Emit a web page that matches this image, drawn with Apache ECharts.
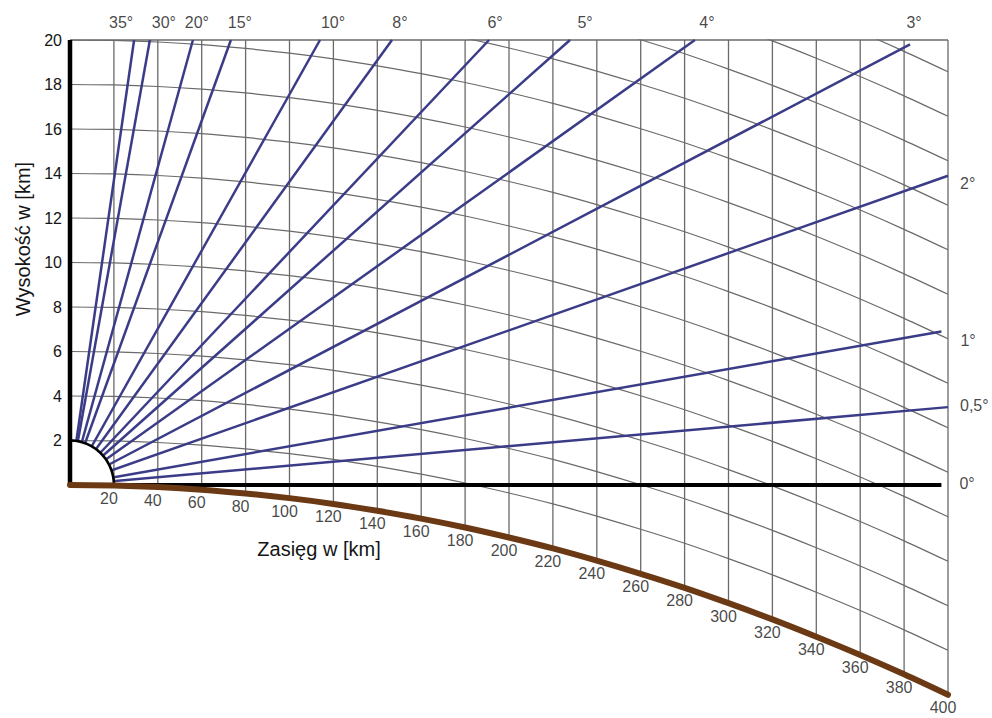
<!DOCTYPE html>
<html><head><meta charset="utf-8">
<script src="https://cdn.jsdelivr.net/npm/echarts@6/dist/echarts.min.js"></script>
<style>html,body{margin:0;padding:0;background:#fff}#c{width:992px;height:718px}</style>
</head><body><div id="c"></div>
<script>
// ---- data ----
// range grid positions (km)
const ranges = [0,20,40,60,80,100,120,140,160,180,200,220,240,260,280,300,320,340,360,380,400];
// earth surface below the tangent (0°) line at each range (km)
const earthSurface = [0,-0.02,-0.09,-0.21,-0.38,-0.59,-0.85,-1.16,-1.51,-1.91,-2.36,-2.85,-3.40,-3.99,-4.62,-5.31,-6.04,-6.82,-7.64,-8.51,-9.43];
// heights of constant-altitude curves (km)
const heightLevels = [2,4,6,8,10,12,14,16,18,20,22,24,26,28];
// beam elevation angles and where each beam ends (km)
const beamAngles    = ['35','30','20','15','10','8','6','5','4','3','2','1','0,5','0'];
const beamEndRange  = [29.2,36.4,56.0,73.3,113.9,146.7,190.9,227.8,284.7,382.7,400,397,400,397];
const beamEndHeight = [20,20,20,20,20,20,20,20,20,19.8,13.9,6.9,3.5,0];
// y tick labels (km)
const yTicks = [2,4,6,8,10,12,14,16,18,20];
// range labels along the earth curve (km)
const rangeLabels = [20,40,60,80,100,120,140,160,180,200,220,240,260,280,300,320,340,360,380,400];
// radar blind zone (quarter ellipse) extents
const zoneRange = 20, zoneHeight = 2;

// ---- styling / layout ----
const FONT = '"Liberation Sans", Arial, Helvetica, sans-serif';
const GRID_COLOR = '#6a6a6a';
const BEAM_COLOR = '#3b3c88';
const EARTH_COLOR = '#6b3a14';
const TEXT_COLOR = '#151515';
// label nudges (px) for beam angle labels: [dx, dy, align]
const beamLabelLayout = [
  [-13,-18,'center'],[14,-18,'center'],[4,-18,'center'],[9,-18,'center'],[13,-18,'center'],
  [8,-18,'center'],[6,-18,'center'],[15,-18,'center'],[12,-18,'center'],[4,-22,'center'],
  [12,8,'left'],[19,9,'left'],[12,-2,'left'],[18,-2,'left']
];

const series = [];
// vertical range lines
ranges.forEach((r, i) => {
  if (i === 0) return;
  series.push({type:'line', silent:true, clip:false, symbol:'none', z:1,
    lineStyle:{color:GRID_COLOR, width:1.3},
    data:[[r, 20],[r, earthSurface[i]]]});
});
// top border
series.push({type:'line', silent:true, clip:false, symbol:'none', z:1,
  lineStyle:{color:GRID_COLOR, width:1.5}, data:[[0,20],[400,20]]});
// constant height curves
heightLevels.forEach(h => {
  series.push({type:'line', silent:true, clip:true, symbol:'none', smooth:0.3, z:1,
    lineStyle:{color:GRID_COLOR, width:1.2},
    data: ranges.map((r, i) => [r, h + earthSurface[i]])});
});
// beams
beamAngles.forEach((a, i) => {
  const zero = a === '0';
  series.push({type:'line', silent:true, clip:false, symbol:'none', z: zero ? 4 : 2,
    lineStyle:{color: zero ? '#000' : BEAM_COLOR, width: zero ? 4 : 2.5},
    data:[[0,0],[beamEndRange[i], beamEndHeight[i]]]});
});
// blind zone
series.push({type:'custom', silent:true, z:3, clip:false,
  data:[[0,0]],
  renderItem: function(params, api){
    const c = api.coord([0,0]);
    const ex = api.coord([zoneRange,0]);
    const ey = api.coord([0,zoneHeight]);
    const rx = ex[0]-c[0], ry = c[1]-ey[1];
    const arc = [];
    for (let k=0;k<=40;k++){ const t = k/40*Math.PI/2; arc.push([c[0]+rx*Math.sin(t), c[1]-ry*Math.cos(t)]); }
    return {type:'group', children:[
      {type:'polygon', shape:{points:[c].concat(arc)}, style:{fill:'#fff', stroke:null}},
      {type:'polyline', shape:{points:arc}, style:{stroke:'#000', lineWidth:2.6, fill:null}}
    ]};
  }});
// left axis line
series.push({type:'line', silent:true, clip:false, symbol:'none', z:4,
  lineStyle:{color:'#000', width:4.5}, data:[[0,0],[0,20]]});
// earth surface
series.push({type:'line', silent:true, clip:false, symbol:'none', smooth:0.3, z:5,
  lineStyle:{color:EARTH_COLOR, width:6, cap:'round'},
  data: ranges.map((r, i) => [r, earthSurface[i]])});
// beam angle labels
series.push({type:'scatter', silent:true, z:6, symbolSize:0.01, itemStyle:{color:'rgba(0,0,0,0)'},
  data: beamAngles.map((a, i) => ({
    value:[beamEndRange[i], beamEndHeight[i]],
    label:{show:true, position:'inside', formatter: a + '°', offset:[beamLabelLayout[i][0], beamLabelLayout[i][1]],
      align: beamLabelLayout[i][2], verticalAlign:'middle', fontSize:16, fontFamily:FONT, color:TEXT_COLOR}
  }))});
// range labels along earth curve
series.push({type:'scatter', silent:true, z:6, symbolSize:0.01, itemStyle:{color:'rgba(0,0,0,0)'},
  data: rangeLabels.map(r => ({value:[r, earthSurface[ranges.indexOf(r)]]})),
  label:{show:true, position:'inside', offset:[-5,13], formatter: p => String(p.value[0]),
    fontSize:16, fontFamily:FONT, color:TEXT_COLOR}});

const chart = echarts.init(document.getElementById('c'), null, {renderer:'svg'});
chart.setOption({
  animation:false,
  backgroundColor:'#fff',
  grid:{left:70, right:44, top:40, bottom:10.5, containLabel:false},
  xAxis:{type:'value', min:0, max:400, show:false},
  yAxis:{type:'value', min:-10, max:20, interval:2,
    axisLine:{show:false}, axisTick:{show:false}, splitLine:{show:false},
    axisLabel:{margin:8, fontSize:16, fontFamily:FONT, color:TEXT_COLOR,
      formatter: v => yTicks.includes(v) ? String(v) : ''}},
  graphic:[
    {type:'text', x:23, y:239, rotation:Math.PI/2,
      style:{text:'Wysokość w [km]', fontSize:20, fontFamily:FONT, fill:TEXT_COLOR,
        textAlign:'center', textVerticalAlign:'middle', align:'center', verticalAlign:'middle'}},
    {type:'text', x:319, y:549,
      style:{text:'Zasięg w [km]', fontSize:20, fontFamily:FONT, fill:TEXT_COLOR,
        textAlign:'center', textVerticalAlign:'middle', align:'center', verticalAlign:'middle'}}
  ],
  series: series
});
</script></body></html>
